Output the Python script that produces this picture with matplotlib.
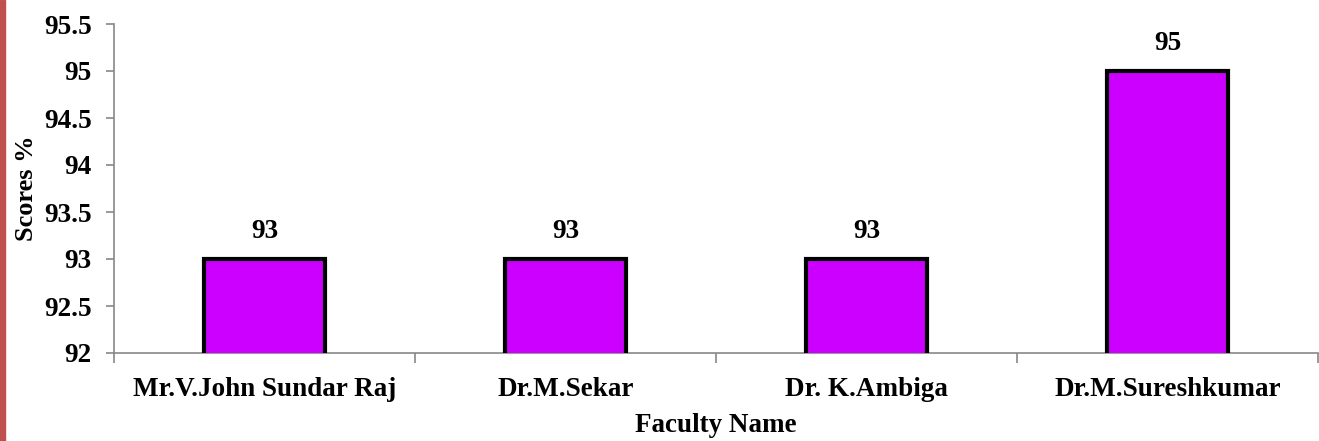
import numpy as np
import matplotlib
matplotlib.use("Agg")
from matplotlib import pyplot as plt
from matplotlib.patches import Rectangle

# ------------------------------ data ------------------------------#
faculty = ["Mr.V.John Sundar Raj", "Dr.M.Sekar", "Dr. K.Ambiga", "Dr.M.Sureshkumar"]
scores = [93, 93, 93, 95]
y_ticks = [92, 92.5, 93, 93.5, 94, 94.5, 95, 95.5]
y_tick_labels = ["92", "92.5", "93", "93.5", "94", "94.5", "95", "95.5"]

plt.rcParams["font.family"] = ["Liberation Serif", "DejaVu Serif"]
plt.rcParams["font.weight"] = "bold"

W, H = 1319, 441
fig = plt.figure(figsize=(W / 100, H / 100), dpi=100)
ax = fig.add_axes([114 / W, 1 - 353 / H, (1318 - 114) / W, (353 - 24) / H])

x = np.arange(len(faculty))
ax.bar(x, scores, width=0.40, bottom=0, color="#CC00FF",
       edgecolor="black", linewidth=3, zorder=3)

for xi, s in zip(x, scores):
    ax.annotate(str(s), (xi, s), xytext=(0, 11), textcoords="offset points",
                ha="center", va="bottom", fontsize=19.5, fontweight="bold")

ax.set_xlim(-0.5, len(faculty) - 0.5)
ax.set_ylim(92, 95.5)
ax.set_yticks(y_ticks)
ax.set_yticklabels(y_tick_labels, fontsize=19.5, fontweight="bold")

# category labels between the boundary ticks
ax.set_xticks(np.arange(len(faculty) + 1) - 0.5)
ax.set_xticklabels([])
ax.set_xticks(x, minor=True)
ax.set_xticklabels(faculty, minor=True, fontsize=19.5, fontweight="bold")
ax.tick_params(axis="x", which="minor", length=0, pad=17.5)
ax.tick_params(axis="x", which="major", length=7, color="#888888", width=1.2)
ax.tick_params(axis="y", length=6, color="#888888", width=1.2, pad=10)

for side in ["top", "right"]:
    ax.spines[side].set_visible(False)
for side in ["left", "bottom"]:
    ax.spines[side].set_color("#888888")
    ax.spines[side].set_linewidth(1.2)

ax.set_ylabel("Scores %", fontsize=19, fontweight="bold", labelpad=4)
ax.set_xlabel("Faculty Name", fontsize=19.5, fontweight="bold", labelpad=7.5)

# red strip on the left edge
fig.patches.append(Rectangle((0, 0), 5 / W, 1, transform=fig.transFigure,
                             color="#C0504D", zorder=0))

fig.savefig("out.png", dpi=100)
